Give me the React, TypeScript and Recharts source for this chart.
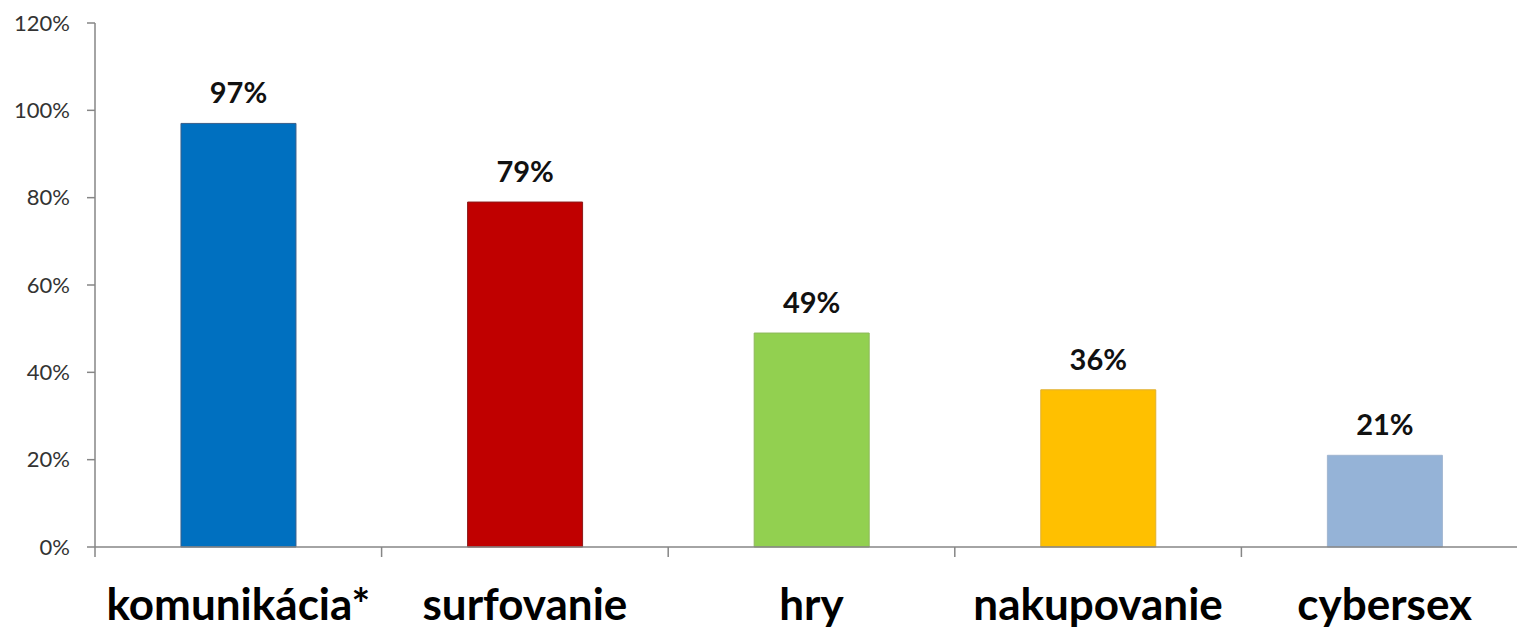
import React from 'react';
import { BarChart, Bar, XAxis, YAxis, Cell, LabelList } from 'recharts';

const categories = ['komunikácia*', 'surfovanie', 'hry', 'nakupovanie', 'cybersex'];
const values = [97, 79, 49, 36, 21];
const fills = ['#0070C0', '#C00000', '#92D050', '#FFC000', '#95B3D7'];
const strokes = ['#3A5F8A', '#8B1A1A', '#8DB85A', '#E0B030', '#A0B4D0'];
const yTicks = [0, 20, 40, 60, 80, 100, 120];

const data = categories.map((name, i) => ({ name, value: values[i] }));

const FONT = 'Lato, "Open Sans", sans-serif';
const AXIS = '#868686';

const CatTick = (props: any) => {
  const { x, y, payload, index } = props;
  const off = payload && typeof payload.offset === 'number' ? payload.offset : 0;
  const axisY = y - 10;
  const last = index === categories.length - 1;
  return (
    <g>
      <line x1={x - off} y1={axisY} x2={x - off} y2={y} stroke={AXIS} strokeWidth={1.5} />
      {last && <line x1={x + off} y1={axisY} x2={x + off} y2={y} stroke={AXIS} strokeWidth={1.5} />}
      <text x={x} y={y + 63} textAnchor="middle" fontFamily={FONT} fontWeight={700} fontSize={44} fill="#000">
        {payload.value}
      </text>
    </g>
  );
};

export default function App() {
  return (
    <div style={{ position: 'absolute', left: 0, top: 0, width: 1517, height: 631, overflow: 'hidden', background: '#fff' }}>
      <BarChart
        width={1540}
        height={631}
        data={data}
        margin={{ top: 23, right: 12, bottom: 0, left: 0 }}
        barCategoryGap="30%"
      >
        <XAxis
          dataKey="name"
          height={84}
          tickSize={10}
          tickMargin={0}
          tickLine={false}
          axisLine={{ stroke: AXIS, strokeWidth: 1.5 }}
          tick={<CatTick />}
          interval={0}
        />
        <YAxis
          width={95}
          domain={[0, 120]}
          ticks={yTicks}
          tickFormatter={(v: number) => `${v}%`}
          tickSize={8}
          tickMargin={17}
          axisLine={{ stroke: AXIS, strokeWidth: 1.5 }}
          tickLine={{ stroke: AXIS, strokeWidth: 1.5 }}
          tick={{ fill: '#333333', fontSize: 22, fontFamily: FONT }}
          interval={0}
        />
        <Bar dataKey="value" isAnimationActive={false}>
          {data.map((d, i) => (
            <Cell key={d.name} fill={fills[i]} stroke={strokes[i]} strokeWidth={1} />
          ))}
          <LabelList
            dataKey="value"
            position="top"
            offset={20}
            formatter={(v: any) => `${v}%`}
            style={{ fontFamily: FONT, fontWeight: 700, fontSize: 29, fill: '#111' }}
          />
        </Bar>
      </BarChart>
    </div>
  );
}
